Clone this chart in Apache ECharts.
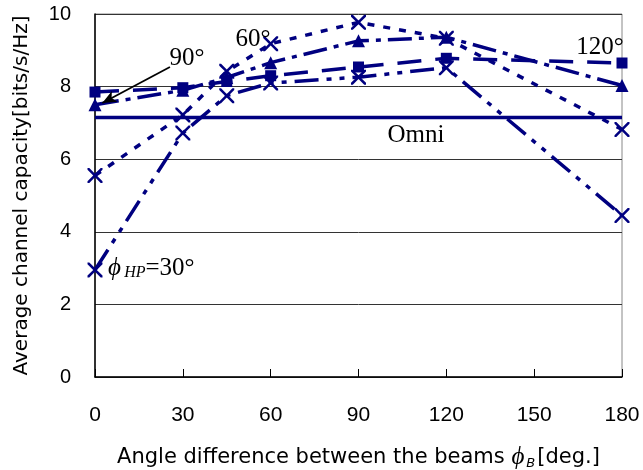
<!DOCTYPE html>
<html><head><meta charset="utf-8">
<script src="https://cdn.jsdelivr.net/npm/echarts@6/dist/echarts.min.js"></script>
<style>html,body{margin:0;padding:0;background:#fff}#c{width:643px;height:470px}</style>
</head><body><div id="c"></div>
<script>
// ---- data ----
const angles = [0, 30, 45, 60, 90, 120, 180];
const hp30  = [2.95, 6.72, 7.75, 8.10, 8.26, 8.52, 4.45];
const hp60  = [5.55, 7.22, 8.42, 9.18, 9.77, 9.33, 6.82];
const hp90  = [7.50, 7.90, 8.25, 8.66, 9.26, 9.36, 8.03];
const hp120 = [7.85, 7.97, 8.14, 8.30, 8.54, 8.78, 8.65];
const omni = 7.15;
const xRange = [0, 180];
const yRange = [0, 10];

const NAVY = '#000080';
const xSym = 'path://M0,0L1.2,0L5,3.8L8.8,0L10,0L10,1.2L6.2,5L10,8.8L10,10L8.8,10L5,6.2L1.2,10L0,10L0,8.8L3.8,5L0,1.2Z';
const pts = arr => angles.map((a, i) => [a, arr[i]]);

const chart = echarts.init(document.getElementById('c'), null, {renderer: 'canvas'});
function series(name, arr, dash, symbol, size) {
  return {
    name, type: 'line', data: pts(arr), symbol, symbolSize: size,
    showSymbol: true, clip: false,
    lineStyle: {color: NAVY, width: 3.5, type: dash, cap: 'butt'},
    itemStyle: {color: NAVY}
  };
}
const sansW = 'DejaVu Sans';
const option = {
  animation: false,
  backgroundColor: '#fff',
  grid: {left: 95, right: 21, top: 14, bottom: 93, show: true, borderColor: '#888', borderWidth: 1,
         outerBoundsMode: 'none', containLabel: false},
  xAxis: {
    type: 'value', min: xRange[0], max: xRange[1], interval: 30,
    name: 'Angle difference between the beams {phi|ϕ}{sub|B}[deg.]',
    nameLocation: 'middle', nameGap: 68,
    nameTextStyle: {fontFamily: sansW, fontSize: 21, color: '#000',
      rich: {phi: {fontFamily: 'Liberation Serif', fontStyle: 'italic', fontSize: 25, color: '#000'},
             sub: {fontFamily: sansW, fontStyle: 'italic', fontSize: 13, color: '#000', verticalAlign: 'bottom', padding: [8, 2, 0, 2]}}},
    axisLine: {lineStyle: {color: '#000', width: 1.5}},
    axisTick: {inside: true, length: 8, lineStyle: {color: '#000'}},
    axisLabel: {fontFamily: 'Liberation Sans', fontSize: 21, color: '#000', margin: 28},
    splitLine: {show: false}
  },
  yAxis: {
    type: 'value', min: yRange[0], max: yRange[1], interval: 2,
    name: 'Average channel capacity[bits/s/Hz]',
    nameLocation: 'middle', nameGap: 63,
    nameTextStyle: {fontFamily: sansW, fontSize: 20, color: '#000'},
    axisLine: {show: true, lineStyle: {color: '#000', width: 1.5}},
    axisTick: {show: false},
    axisLabel: {fontFamily: 'Liberation Sans', fontSize: 20, color: '#000', margin: 24},
    splitLine: {show: true, lineStyle: {color: '#333', width: 1}}
  },
  series: [
    {
      name: 'Omni', type: 'line', data: [[xRange[0], omni], [xRange[1], omni]],
      symbol: 'none', lineStyle: {color: NAVY, width: 3.5, type: 'solid'}, z: 1
    },
    series('30', hp30, [24, 8, 5, 8, 5, 8], xSym, 15),
    series('60', hp60, [7, 9], xSym, 15),
    Object.assign(series('90', hp90, [24, 7, 5, 7], 'triangle', 13), {
      markLine: {
        silent: true, symbol: ['none', 'arrow'], symbolSize: [9, 14],
        label: {show: false},
        lineStyle: {color: '#000', width: 1.8, type: 'solid'},
        data: [[{coord: [25.6, 8.54]}, {coord: [2.5, 7.55]}]]
      }
    }),
    series('120', hp120, [24, 14], 'rect', 11)
  ]
};
chart.setOption(option);

const serif = 'Liberation Serif';
const notes = [
  {at: [31.4, 8.78], text: '90°'},
  {at: [54, 9.3], text: '60°'},
  {at: [172.5, 9.08], text: '120°'},
  {at: [109.6, 6.66], text: 'Omni'}
];
const g = notes.map(n => {
  const p = chart.convertToPixel({gridIndex: 0}, n.at);
  return {type: 'text', x: p[0], y: p[1], z: 100,
    style: {text: n.text, font: '25px ' + serif, fill: '#000', align: 'center', verticalAlign: 'middle'}};
});
const p30 = chart.convertToPixel({gridIndex: 0}, [4.4, 3.0]);
g.push({type: 'text', x: p30[0], y: p30[1], z: 100,
  style: {text: '{phi|ϕ} {sub|HP}{n|=30°}', verticalAlign: 'middle', align: 'left',
    rich: {phi: {font: 'italic 25px ' + serif, fill: '#000'},
           sub: {font: 'italic 16px ' + serif, fill: '#000', verticalAlign: 'bottom', padding: [10, 0, 0, 0]},
           n: {font: '25px ' + serif, fill: '#000'}}}});
chart.setOption({graphic: g});
</script></body></html>
